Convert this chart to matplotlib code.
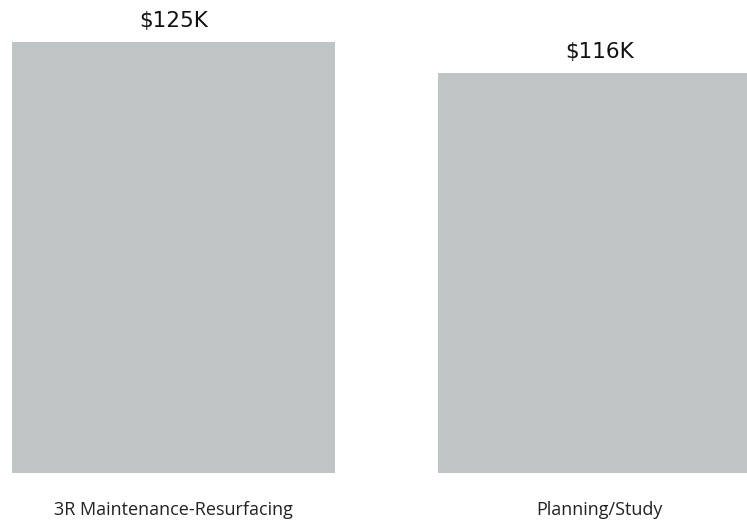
import matplotlib.pyplot as plt

categories = ['3R Maintenance-Resurfacing', 'Planning/Study']
values = [125, 116]
value_labels = ['$125K', '$116K']

fig = plt.figure(figsize=(7.47, 5.2), dpi=100)
ax = fig.add_axes([0, 47 / 520, 1, 1 - 47 / 520])

pos = list(range(len(categories)))
bars = ax.bar(pos, values, width=0.758, color='#bfc5c5')

# value labels above each bar
for b, lab in zip(bars, value_labels):
    ax.annotate(lab, (b.get_x() + b.get_width() / 2, b.get_height()),
                xytext=(0, 15), textcoords='offset pixels',
                ha='center', va='baseline', fontsize=15.5, family='DejaVu Sans',
                color='#111111')

ax.set_xlim(-0.407, 1.346)
ax.set_ylim(0, 137.2)
ax.set_xticks(pos)
ax.set_xticklabels(categories, fontsize=13, family='Open Sans', color='#222222')
ax.tick_params(axis='x', length=0, pad=20.5)
ax.set_yticks([])
for s in ax.spines.values():
    s.set_visible(False)

fig.savefig('out.png', dpi=100)
